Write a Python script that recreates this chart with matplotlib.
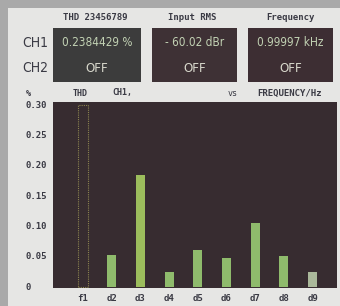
import matplotlib
matplotlib.use("Agg")
import matplotlib.pyplot as plt
from matplotlib.patches import Rectangle
from matplotlib import font_manager

categories = ["f1", "d2", "d3", "d4", "d5", "d6", "d7", "d8", "d9"]
thd_values = [0.30, 0.053, 0.184, 0.025, 0.061, 0.048, 0.105, 0.051, 0.025]
y_ticks = [0, 0.05, 0.10, 0.15, 0.20, 0.25, 0.30]
y_tick_labels = ["0", "0.05", "0.10", "0.15", "0.20", "0.25", "0.30"]
panel_titles = ["THD 23456789", "Input RMS", "Frequency"]
ch1_readings = ["0.2384429 %", "- 60.02 dBr", "0.99997 kHz"]
ch2_readings = ["OFF", "OFF", "OFF"]

names = sorted({f.name for f in font_manager.fontManager.ttflist})
cond = [f for f in font_manager.fontManager.ttflist if "ondensed" in f.fname or "arrow" in f.fname]
print(names)
print([(f.name, f.stretch, f.fname) for f in cond])

W, H = 340, 306
fig = plt.figure(figsize=(W / 100, H / 100), dpi=100)
fig.patch.set_facecolor("#e6e6e4")

def px(x, y, w, h):
    return (x / W, 1 - (y + h) / H, w / W, h / H)

for (x, y, w, h) in [(0, 0, 340, 8), (0, 0, 8, 306)]:
    r = px(x, y, w, h)
    fig.patches.append(Rectangle((r[0], r[1]), r[2], r[3], transform=fig.transFigure,
                                 facecolor="#a9a9a9", edgecolor="none", zorder=0))

mono = ["DejaVu Sans Mono"]
narrow = ["DejaVu Sans"]
txt_col = "#3a3a44"

boxes = [(53, 28, 88, 54, "#3c3c3c"), (152, 28, 85, 54, "#3e3135"), (248, 28, 85, 54, "#3d2e33")]
centers = [95, 192, 290]
for (x, y, w, h, c), cx, title, r1, r2 in zip(boxes, centers, panel_titles, ch1_readings, ch2_readings):
    r = px(x, y, w, h)
    fig.patches.append(Rectangle((r[0], r[1]), r[2], r[3], transform=fig.transFigure,
                                 facecolor=c, edgecolor="none", zorder=1))
    fig.text(cx / W, 1 - 18 / H, title, family=mono, fontsize=6.5, weight="bold",
             color=txt_col, ha="center", va="center")
    fig.text((x + w / 2) / W, 1 - 43 / H, r1, family=narrow, fontstretch="condensed",
             fontsize=8.5, color="#c2d2b4", ha="center", va="center")
    fig.text((x + w / 2) / W, 1 - 68 / H, r2, family=narrow, fontstretch="condensed",
             fontsize=9.5, color="#d8d8cc", ha="center", va="center")

fig.text(35 / W, 1 - 43 / H, "CH1", family=narrow, fontstretch="condensed", fontsize=10, color=txt_col, ha="center", va="center")
fig.text(35 / W, 1 - 68 / H, "CH2", family=narrow, fontstretch="condensed", fontsize=10, color=txt_col, ha="center", va="center")

fig.text(28 / W, 1 - 93 / H, "%", family=mono, fontsize=6, weight="bold", color=txt_col, ha="center", va="center")
fig.text(80 / W, 1 - 93 / H, "THD", family=mono, fontsize=6, weight="bold", color=txt_col, ha="center", va="center")
fig.text(122 / W, 1 - 93 / H, "CH1,", family=mono, fontsize=6, weight="bold", color=txt_col, ha="center", va="center")
fig.text(233 / W, 1 - 93 / H, "vs", family=mono, fontsize=6, color=txt_col, ha="center", va="center")
fig.text(290 / W, 1 - 93 / H, "FREQUENCY/Hz", family=mono, fontsize=6.5, weight="bold", color=txt_col, ha="center", va="center")

ax = fig.add_axes(px(53, 102, 284, 186))
ax.set_facecolor("#372c30")
xs = list(range(len(categories)))
bar_colors = ["none", "#8fbb6c", "#9cbd5c", "#8fbb6c", "#8fbb6c", "#8fbb6c", "#8fbb6c", "#8fbb6c", "#aab89a"]
for i, (v, c) in enumerate(zip(thd_values, bar_colors)):
    if i == 0:
        ax.bar(i, v, width=0.32, facecolor="none", edgecolor="#8c8450", linewidth=0.8,
               linestyle=(0, (1, 1)))
    else:
        ax.bar(i, v, width=0.31, color=c, edgecolor="none")
ax.set_xlim(-1.045, 8.85)
ax.set_ylim(-0.0016, 0.305)
ax.set_xticks(xs)
ax.set_xticklabels(categories, family=mono, fontsize=6.5, weight="bold", color=txt_col)
ax.tick_params(axis="x", length=0, pad=4)
ax.set_yticks([])
for v, lab in zip(y_ticks, y_tick_labels):
    ax.text(-28 / 284, v, lab, transform=ax.get_yaxis_transform(), family=mono,
            fontsize=6.5, weight="bold", color=txt_col, ha="left", va="center")
for s in ax.spines.values():
    s.set_visible(False)

fig.savefig("out.png", dpi=100, facecolor=fig.get_facecolor())
